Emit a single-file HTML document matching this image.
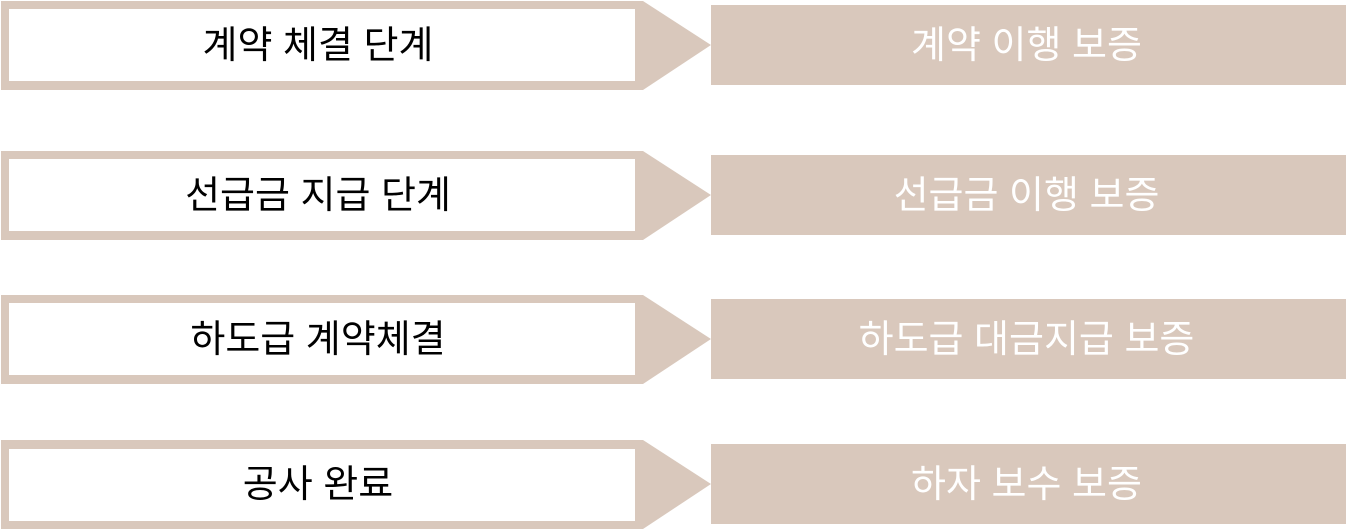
<!DOCTYPE html>
<html><head><meta charset="utf-8"><style>
body{margin:0;width:1346px;height:530px;background:#fff;position:relative;overflow:hidden;font-family:"Liberation Sans","Noto Sans CJK KR",sans-serif;}
.row{position:absolute;left:0;width:1346px;height:90px;}
.row svg{position:absolute;left:0;top:0}
.l,.r{position:absolute;top:0;height:90px;line-height:92px;font-size:38px;text-align:center}
.l{left:5px;width:626px;color:#000}
.r{left:709px;width:635px;color:#fff}
</style></head><body>
<div class="row" style="top:0px">
<svg width="1346" height="90"><polygon points="1,1 643,1 711,45 643,90 1,90" fill="#d9c8bc"/><rect x="9" y="9" width="626" height="72" fill="#fff"/><rect x="711" y="5" width="635" height="80" fill="#d9c8bc"/></svg>
<div class="l">계약 체결 단계</div><div class="r">계약 이행 보증</div></div>
<div class="row" style="top:150px">
<svg width="1346" height="90"><polygon points="1,1 643,1 711,45 643,90 1,90" fill="#d9c8bc"/><rect x="9" y="9" width="626" height="72" fill="#fff"/><rect x="711" y="5" width="635" height="80" fill="#d9c8bc"/></svg>
<div class="l">선급금 지급 단계</div><div class="r">선급금 이행 보증</div></div>
<div class="row" style="top:294px">
<svg width="1346" height="90"><polygon points="1,1 643,1 711,45 643,90 1,90" fill="#d9c8bc"/><rect x="9" y="9" width="626" height="72" fill="#fff"/><rect x="711" y="5" width="635" height="80" fill="#d9c8bc"/></svg>
<div class="l">하도급 계약체결</div><div class="r">하도급 대금지급 보증</div></div>
<div class="row" style="top:439px">
<svg width="1346" height="91"><polygon points="1,1 643,1 711,45 643,90 1,90" fill="#d9c8bc"/><rect x="9" y="10" width="626" height="72" fill="#fff"/><rect x="711" y="5" width="635" height="80" fill="#d9c8bc"/></svg>
<div class="l">공사 완료</div><div class="r">하자 보수 보증</div></div>
</body></html>
